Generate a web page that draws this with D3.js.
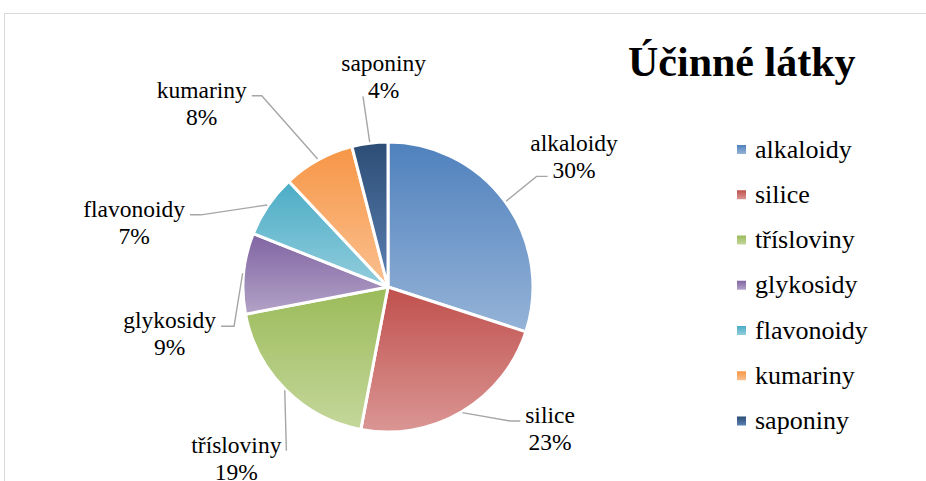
<!DOCTYPE html>
<html>
<head>
<meta charset="utf-8">
<script src="https://cdn.jsdelivr.net/npm/d3@7"></script>
<style>
  body { margin: 0; background: #fff; }
  svg text { font-family: "Liberation Serif"; fill: #000; }
</style>
</head>
<body>
<div id="container"></div>
<script>
// data
const categories = ["alkaloidy", "silice", "třísloviny", "glykosidy", "flavonoidy", "kumariny", "saponiny"];
const values = [30, 23, 19, 9, 7, 8, 4];
const topColors = ["#4f81bd", "#c0504d", "#9bbb59", "#8064a2", "#4bacc6", "#f79646", "#2c4d75"];
const bottomColors = ["#95b3d7", "#da9694", "#c4d79b", "#b3a2c7", "#92cddc", "#fac090", "#5b80b3"];
const title = "Účinné látky";

// label layout tweaks (offset from polar point, side the leader attaches to)
const labelNudge = [[16, -12], [55, -45], [-3, 17], [-9, 61], [-80, 48], [-85, -5], [22, -7]];
const labelSide = ["left", "left", "right", "right", "right", "right", "left"];
const leaderLine = [1, 0, 0, 0, 0, 0, 1];
const leaderStub = [11, 10, 0, 13, 11, 10, 0];

const width = 926, height = 481;
const cx = 388, cy = 287, radius = 145;

const svg = d3.select("#container")
  .append("svg")
  .attr("width", width)
  .attr("height", height);

// chart frame
svg.append("rect")
  .attr("x", 4.5).attr("y", 13.5)
  .attr("width", 960).attr("height", 520)
  .attr("fill", "#fff")
  .attr("stroke", "#d9d9d9");

const defs = svg.append("defs");
categories.forEach((c, i) => {
  const g = defs.append("linearGradient")
    .attr("id", "grad" + i)
    .attr("x1", 0).attr("y1", 0).attr("x2", 0).attr("y2", 1);
  g.append("stop").attr("offset", "0%").attr("stop-color", topColors[i]);
  g.append("stop").attr("offset", "100%").attr("stop-color", bottomColors[i]);
});

const total = d3.sum(values);
const pie = d3.pie().sort(null).value((d) => d.value);
const arcs = pie(categories.map((c, i) => ({ name: c, value: values[i], i: i })));
const arc = d3.arc().innerRadius(0).outerRadius(radius);

const chart = svg.append("g").attr("transform", `translate(${cx},${cy})`);

chart.selectAll("path.slice")
  .data(arcs)
  .enter()
  .append("path")
  .attr("class", "slice")
  .attr("d", arc)
  .attr("fill", (d) => `url(#grad${d.data.i})`)
  .attr("stroke", "#fff")
  .attr("stroke-width", 3)
  .attr("stroke-linejoin", "round");

const polar = (a, r) => [r * Math.sin(a), -r * Math.cos(a)];
const labelFont = 23.5;
const lineGap = 27;
const leaders = chart.append("g");

// data labels
const labelLines = arcs.map((d, i) => {
  const mid = (d.startAngle + d.endAngle) / 2;
  const p = polar(mid, radius * 1.45);
  const lx = p[0] + labelNudge[i][0];
  const ly = p[1] + labelNudge[i][1];
  const pct = Math.round((d.value / total) * 100) + "%";
  const lines = [d.data.name, pct].map((t, k) =>
    chart.append("text")
      .attr("x", lx)
      .attr("y", ly + k * lineGap)
      .attr("text-anchor", "middle")
      .attr("font-size", labelFont)
      .text(t)
  );
  return { mid, lx, ly, lines };
});

// title
svg.append("text")
  .attr("x", 628)
  .attr("y", 76)
  .attr("font-size", 42)
  .attr("font-weight", "bold")
  .text(title);

// legend
const legendY = d3.scalePoint().domain(categories).range([149.5, 421]);
const legend = svg.append("g").attr("id", "legend");
const item = legend.selectAll("g")
  .data(categories)
  .enter()
  .append("g")
  .attr("transform", (d) => `translate(737,${legendY(d)})`);
item.append("rect")
  .attr("x", 0).attr("y", -4.5)
  .attr("width", 9).attr("height", 9)
  .attr("fill", (d, i) => `url(#grad${i})`);
item.append("text")
  .attr("x", 18)
  .attr("y", 8)
  .attr("font-size", 26)
  .text((d) => d);

// leader lines, measured once the font is in
const drawLeaders = () => {
  labelLines.forEach((L, i) => {
    const w = L.lines[leaderLine[i]].node().getComputedTextLength();
    const by = L.ly + leaderLine[i] * lineGap - 2;
    let ex, elx;
    if (labelSide[i] === "left") {
      ex = L.lx - w / 2 - 5;
      elx = ex - leaderStub[i];
    } else {
      ex = L.lx + w / 2 + 5;
      elx = ex + leaderStub[i];
    }
    const s = polar(L.mid, radius + 1);
    leaders.append("polyline")
      .attr("points", [s, [elx, by], [ex, by]].map((q) => q.join(",")).join(" "))
      .attr("fill", "none")
      .attr("stroke", "#a6a6a6")
      .attr("stroke-width", 1.4);
  });
};
document.fonts.ready.then(drawLeaders);
</script>
</body>
</html>
